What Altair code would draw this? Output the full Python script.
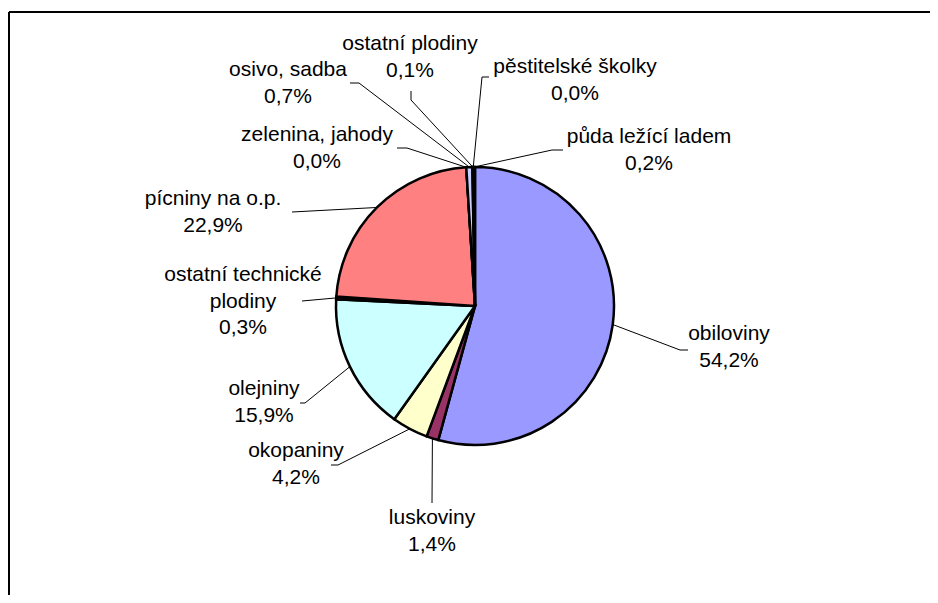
import math
import altair as alt
import pandas as pd

# ---- data ----
categories = ["obiloviny", "luskoviny", "okopaniny", "olejniny",
              "ostatní technické plodiny", "pícniny na o.p.", "zelenina, jahody",
              "osivo, sadba", "ostatní plodiny", "pěstitelské školky",
              "půda ležící ladem"]
shares = [54.2, 1.4, 4.2, 15.9, 0.3, 22.9, 0.0, 0.7, 0.1, 0.0, 0.2]
colors = ["#9999FF", "#993366", "#FFFFCC", "#CCFFFF", "#660066", "#FF8080",
          "#0066CC", "#CCCCFF", "#000080", "#FF00FF", "#FFFF00"]
name_lines = {"ostatní technické plodiny": "ostatní technické\nplodiny"}

# ---- layout (page pixels; label y = first text line) ----
W, H, M = 922, 587, 8
CX, CY, R = 475, 306, 139
label_pos = [(729, 334), (432, 518), (296, 451), (264, 389), (243, 275),
             (213, 199), (317, 135), (288, 70), (410, 44), (575, 67), (649, 137)]
leader_start = [[(688, 350), (680, 350)], [(432, 503)], [(331, 465), (338, 465)],
                [(300, 403), (305, 403)], [(302, 301)], [(292, 212)],
                [(397, 148), (407, 148)], [(350, 83), (359, 83)],
                [(411, 91), (411, 100)], [(489, 77), (482, 77)],
                [(563, 150), (552, 150)]]

total = sum(shares)
pie = pd.DataFrame({"cat": categories, "share": shares,
                    "idx": list(range(len(categories)))})

# label table
lab_rows = []
for c, v, (lx, ly) in zip(categories, shares, label_pos):
    txt = name_lines.get(c, c) + "\n" + f"{v:.1f}".replace(".", ",") + "%"
    lab_rows.append({"cat": c, "x": lx, "y": ly, "txt": txt})
labels = pd.DataFrame(lab_rows)

# leader lines: label side from layout, pie side from slice mid-angle
line_rows = []
cum = 0.0
for c, v, pts in zip(categories, shares, leader_start):
    mid = (cum + v / 2) / total * 2 * math.pi
    cum += v
    ex = CX + R * math.sin(mid)
    ey = CY - R * math.cos(mid)
    allpts = list(pts) + [(ex, ey)]
    for k, (px, py) in enumerate(allpts):
        line_rows.append({"cat": c, "k": k, "x": px, "y": py})
lines = pd.DataFrame(line_rows)

frame = pd.DataFrame([
    {"x": 9, "y": 12, "x2": 930, "y2": 12},
    {"x": 9, "y": 12, "x2": 9, "y2": 595},
])

xs = alt.Scale(domain=[M, M + W], nice=False, zero=False)
ys = alt.Scale(domain=[M, M + H], nice=False, zero=False, reverse=True)

arcs = alt.Chart(pie).mark_arc(outerRadius=R, stroke="black", strokeWidth=2.5,
                               strokeJoin="miter").encode(
    theta=alt.Theta("share:Q", stack=True),
    order=alt.Order("idx:Q", sort="ascending"),
    color=alt.Color("cat:N", scale=alt.Scale(domain=categories, range=colors),
                    legend=None),
    x=alt.value(CX - M),
    y=alt.value(CY - M),
)

leaders = alt.Chart(lines).mark_line(color="black", strokeWidth=1).encode(
    x=alt.X("x:Q", scale=xs, axis=None),
    y=alt.Y("y:Q", scale=ys, axis=None),
    detail="cat:N",
    order="k:Q",
)

texts = alt.Chart(labels).mark_text(
    font="Liberation Sans", fontSize=21, lineBreak="\n", lineHeight=26.5,
    align="center", baseline="middle", color="black"
).encode(
    x=alt.X("x:Q", scale=xs, axis=None),
    y=alt.Y("y:Q", scale=ys, axis=None),
    text="txt:N",
)

border = alt.Chart(frame).mark_rule(color="black", strokeWidth=2).encode(
    x=alt.X("x:Q", scale=xs, axis=None),
    y=alt.Y("y:Q", scale=ys, axis=None),
    x2="x2:Q",
    y2="y2:Q",
)

chart = alt.layer(border, leaders, arcs, texts).properties(
    width=W, height=H, padding=0,
    autosize=alt.AutoSizeParams(type="none"),
).configure_view(stroke=None)

chart.save("out.html", embed_options={"renderer": "svg", "actions": False})
